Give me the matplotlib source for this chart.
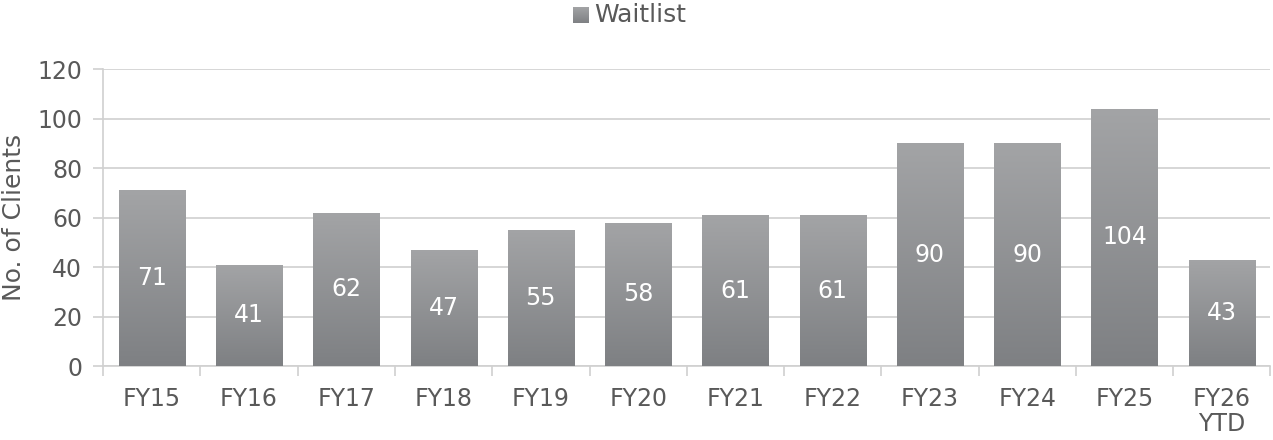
import numpy as np
import matplotlib
matplotlib.use("Agg")
import matplotlib.pyplot as plt
from matplotlib.colors import LinearSegmentedColormap

categories = ["FY15", "FY16", "FY17", "FY18", "FY19", "FY20", "FY21", "FY22",
              "FY23", "FY24", "FY25", "FY26\nYTD"]
waitlist = [71, 41, 62, 47, 55, 58, 61, 61, 90, 90, 104, 43]
y_ticks = [0, 20, 40, 60, 80, 100, 120]

plt.rcParams['font.family'] = ['DejaVu Sans']
text_color = '#595959'
grid_color = '#d0d0d0'
fs = 17

# gradient: light grey at top, darker at bottom
cmap = LinearSegmentedColormap.from_list("bar", ["#7e8083", "#a3a4a6"])
grad = np.linspace(0, 1, 256).reshape(-1, 1)

fig = plt.figure(figsize=(12.73, 4.4), dpi=100, facecolor='white')
ax = fig.add_axes([0.081, 0.168, 0.917, 0.675])

x = np.arange(len(categories))
bars = ax.bar(x, waitlist, width=0.68, color='none', zorder=3)
for b, v in zip(bars, waitlist):
    x0, w, h = b.get_x(), b.get_width(), b.get_height()
    im = ax.imshow(grad, cmap=cmap, origin='lower', aspect='auto',
                   extent=[x0, x0 + w, 0, h], zorder=3)
    im.set_clip_path(b)
    ax.text(x0 + w / 2, h / 2, str(v), ha='center', va='center',
            color='white', fontsize=fs, zorder=4)

ax.set_xlim(-0.5, len(categories) - 0.5)
ax.set_ylim(0, 120)
ax.set_yticks(y_ticks)
ax.yaxis.grid(True, color=grid_color, linewidth=1.2, zorder=0)
ax.set_axisbelow(True)

ax.set_xticks(x)
ax.set_xticklabels(categories, color=text_color, fontsize=fs, linespacing=1.05)
ax.set_xticks(np.arange(len(categories) + 1) - 0.5, minor=True)
ax.tick_params(axis='x', which='major', length=0, pad=15)
ax.tick_params(axis='x', which='minor', length=7, color=grid_color, width=1.2)
ax.tick_params(axis='y', length=7, color=grid_color, width=1.2,
               labelcolor=text_color, labelsize=fs, pad=8)

for side in ['top', 'right']:
    ax.spines[side].set_visible(False)
for side in ['left', 'bottom']:
    ax.spines[side].set_color(grid_color)
    ax.spines[side].set_linewidth(1.2)

ax.set_ylabel("No. of Clients", color=text_color, fontsize=18)
ax.yaxis.set_label_coords(-0.066, 0.5)

# legend with gradient swatch
lg_ax = fig.add_axes([0.45, 0.948, 0.0125, 0.036])
lg_ax.imshow(grad, cmap=cmap, origin='lower', aspect='auto')
lg_ax.axis('off')
fig.text(0.4665, 0.966, "Waitlist", color=text_color, fontsize=18,
         ha='left', va='center')

fig.savefig("out.png", dpi=100, facecolor='white')
